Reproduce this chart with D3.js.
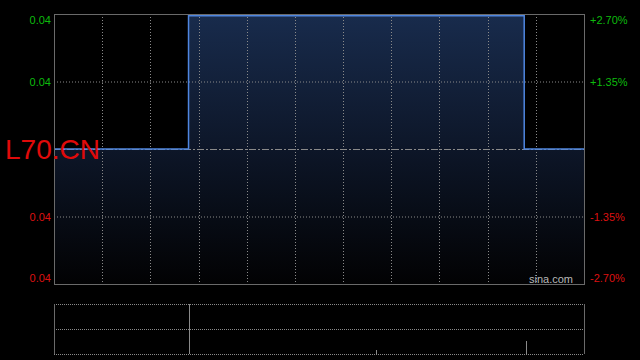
<!DOCTYPE html>
<html>
<head>
<meta charset="utf-8">
<script src="https://cdn.jsdelivr.net/npm/d3@7"></script>
<style>
  html, body { margin: 0; padding: 0; background: #000; }
  svg { display: block; font-family: Arial, "Liberation Sans", sans-serif; }
</style>
</head>
<body>
<div class="chart"></div>
<script>
// trading minutes since open and price at each change
const times = [0, 99, 346, 390];
const prices = [0.0375, 0.0385, 0.0375, 0.0375];
const prevClose = 0.0375;
const volTimes = [99, 237, 347];
const volumes = [9000, 80, 260];
const leftLabels = ["0.04", "0.04", "", "0.04", "0.04"];
const rightLabels = ["+2.70%", "+1.35%", "", "-1.35%", "-2.70%"];
const pctTicks = [2.7, 1.35, 0, -1.35, -2.7];

const W = 640, H = 360;
const m = { left: 54, right: 584, top: 14, bottom: 284 };
const vol = { top: 304, bottom: 354 };

const svg = d3.select(".chart").append("svg")
    .attr("width", W).attr("height", H);

const x = d3.scaleLinear().domain([0, 390]).range([m.left, m.right]);
const pct = d3.scaleLinear().domain([-2.7, 2.7]).range([m.bottom, m.top]);
const y = p => pct((p - prevClose) / prevClose * 100);
const yv = d3.scaleLinear().domain([0, 1000]).range([vol.bottom, vol.top]).clamp(true);

const defs = svg.append("defs");
const grad = defs.append("linearGradient").attr("id", "fill")
    .attr("x1", 0).attr("y1", 0).attr("x2", 0).attr("y2", 1);
grad.append("stop").attr("offset", "0%").attr("stop-color", "#182b4c");
grad.append("stop").attr("offset", "50%").attr("stop-color", "#0d1628");
grad.append("stop").attr("offset", "100%").attr("stop-color", "#020203");

const pts = times.map((t, i) => [t, prices[i]]);

// area under the price line
svg.append("path")
    .datum(pts)
    .attr("fill", "url(#fill)")
    .attr("d", d3.area().curve(d3.curveStepAfter)
        .x(d => x(d[0])).y0(m.bottom).y1(d => y(d[1])));

// vertical grid
const gridX = d3.range(1, 11).map(i => i * 390 / 11);
svg.append("g").selectAll("line").data(gridX).enter().append("line")
    .attr("x1", d => Math.round(x(d)) + 0.5).attr("x2", d => Math.round(x(d)) + 0.5)
    .attr("y1", m.top).attr("y2", m.bottom)
    .attr("stroke", "#8a8a8a").attr("stroke-dasharray", "1,2");

// horizontal grid
svg.append("g").selectAll("line").data(pctTicks.filter(d => Math.abs(d) < 2)).enter().append("line")
    .attr("x1", m.left).attr("x2", m.right)
    .attr("y1", d => pct(d) + 0.5).attr("y2", d => pct(d) + 0.5)
    .attr("stroke", "#8a8a8a")
    .attr("stroke-dasharray", d => d === 0 ? "7,2,2,2" : "1,2");

// price line
svg.append("path")
    .datum(pts)
    .attr("fill", "none")
    .attr("stroke", "#4f86e0")
    .attr("stroke-width", 1.5)
    .attr("d", d3.line().curve(d3.curveStepAfter)
        .x(d => x(d[0])).y(d => y(d[1])));

// frame
svg.append("rect")
    .attr("x", m.left + 0.5).attr("y", m.top + 0.5)
    .attr("width", m.right - m.left).attr("height", m.bottom - m.top)
    .attr("fill", "none").attr("stroke", "#6a6a6a");

// axis labels
const labelY = d => Math.min(Math.max(pct(d) + 4, m.top + 10), m.bottom - 2);
svg.append("g").selectAll("text").data(pctTicks).enter().append("text")
    .attr("x", 51).attr("y", labelY)
    .attr("text-anchor", "end").attr("font-size", 11)
    .attr("fill", d => d > 0 ? "#0dbb0d" : "#dd1111")
    .text((d, i) => leftLabels[i]);

svg.append("g").selectAll("text").data(pctTicks).enter().append("text")
    .attr("x", 590).attr("y", labelY)
    .attr("font-size", 11)
    .attr("fill", d => d > 0 ? "#0dbb0d" : "#dd1111")
    .text((d, i) => rightLabels[i]);

svg.append("text")
    .attr("x", 5).attr("y", pct(0) + 10)
    .attr("font-size", 28).attr("fill", "#e00a0a")
    .text("L70.CN");

svg.append("text")
    .attr("x", 573).attr("y", 283)
    .attr("text-anchor", "end").attr("font-size", 11)
    .attr("fill", "#b8b8b8")
    .text("sina.com");

// volume panel
const vg = svg.append("g");
[vol.top, (vol.top + vol.bottom) / 2, vol.bottom].forEach(v => {
    vg.append("line")
        .attr("x1", m.left).attr("x2", m.right)
        .attr("y1", v + 0.5).attr("y2", v + 0.5)
        .attr("stroke", "#8a8a8a").attr("stroke-dasharray", "1,1");
});
[m.left, m.right].forEach(v => {
    vg.append("line")
        .attr("x1", v + 0.5).attr("x2", v + 0.5)
        .attr("y1", vol.top).attr("y2", vol.bottom)
        .attr("stroke", "#6a6a6a");
});
vg.selectAll("line.bar").data(volTimes).enter().append("line")
    .attr("class", "bar")
    .attr("x1", d => Math.round(x(d)) + 0.5).attr("x2", d => Math.round(x(d)) + 0.5)
    .attr("y1", vol.bottom).attr("y2", (d, i) => yv(volumes[i]))
    .attr("stroke", "#8a8a8a");
</script>
</body>
</html>
